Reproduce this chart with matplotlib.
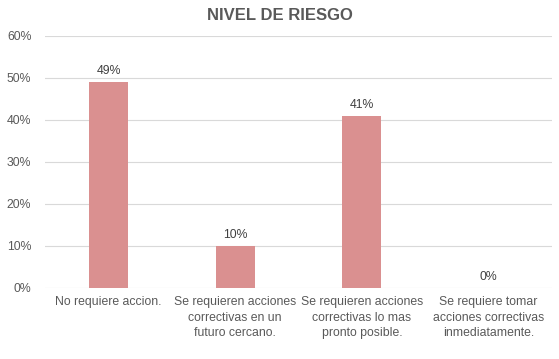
import matplotlib
matplotlib.use("Agg")
import matplotlib.pyplot as plt
from matplotlib.ticker import FuncFormatter

categories = ["No requiere accion.",
              "Se requieren acciones\ncorrectivas en un\nfuturo cercano.",
              "Se requieren acciones\ncorrectivas lo mas\npronto posible.",
              "Se requiere tomar\nacciones correctivas\ninmediatamente."]
values = [0.49, 0.10, 0.41, 0.0]
value_labels = ["49%", "10%", "41%", "0%"]
yticks = [0, 0.1, 0.2, 0.3, 0.4, 0.5, 0.6]

plt.rcParams['font.family'] = ['Liberation Sans', 'DejaVu Sans']
fig = plt.figure(figsize=(5.59, 3.59), dpi=100)
ax = fig.add_axes([0.081, 0.198, 0.906, 0.702])
x = range(len(categories))
ax.bar(x, values, width=0.31, color="#DA9090", zorder=3)
for i, (v, lab) in enumerate(zip(values, value_labels)):
    ax.text(i, v + 0.012, lab, ha="center", va="bottom", fontsize=8.8, color="#404040")
ax.set_xlim(-0.5, 3.5)
ax.set_ylim(0, 0.6)
ax.set_yticks(yticks)
ax.yaxis.set_major_formatter(FuncFormatter(lambda v, p: f"{v*100:.0f}%"))
ax.grid(axis="y", color="#D9D9D9", linewidth=0.8, zorder=0)
for s in ax.spines.values():
    s.set_visible(False)
ax.set_xticks(list(x))
ax.set_xticklabels(categories, fontsize=8.8, color="#404040", linespacing=1.4)
ax.tick_params(axis="both", length=0, colors="#595959", labelsize=8.8)
ax.tick_params(axis="x", pad=6)
ax.tick_params(axis="y", pad=10)
fig.text(0.5, 0.958, "NIVEL DE RIESGO", ha="center", va="center",
         fontsize=12, fontweight="bold", color="#595959")
fig.savefig("out.png", dpi=100)
